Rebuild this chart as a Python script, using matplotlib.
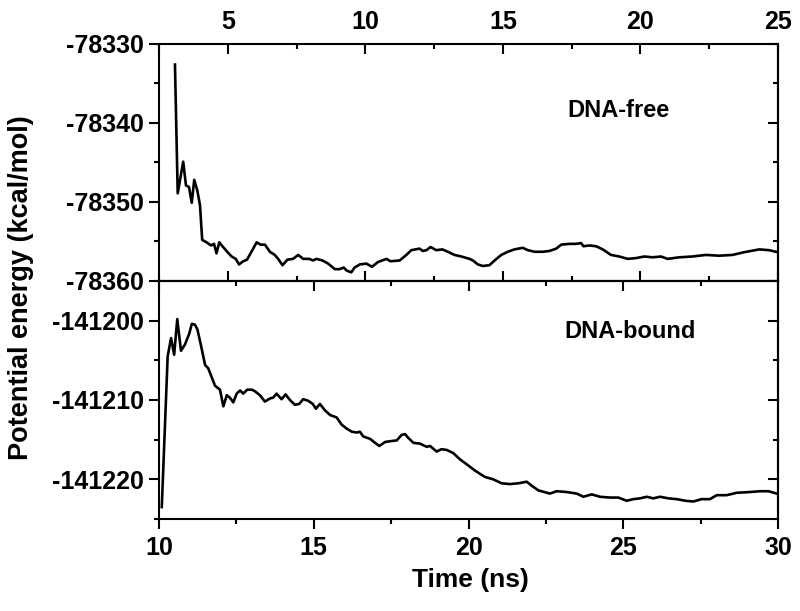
import numpy as np
import matplotlib
matplotlib.use("Agg")
import matplotlib.pyplot as plt
from matplotlib.ticker import MultipleLocator, ScalarFormatter


# =========================
# Data
# =========================

# DNA-free (top panel, top time axis)
free_time = [
    3.08, 3.18, 3.38, 3.48, 3.59, 3.69, 3.78, 3.89, 3.99, 4.07,
    4.23, 4.39, 4.50, 4.59, 4.69, 4.83, 4.98, 5.14, 5.29, 5.41,
    5.56, 5.70, 5.86, 6.05, 6.19, 6.35, 6.53, 6.71, 6.83, 6.99,
    7.17, 7.37, 7.56, 7.74, 7.96, 8.10, 8.22, 8.44, 8.65, 8.89,
    9.07, 9.21, 9.33, 9.49, 9.61, 9.80, 10.04, 10.24, 10.46, 10.77,
    10.91, 11.25, 11.49, 11.67, 11.97, 12.09, 12.22, 12.37, 12.58, 12.80,
    13.00, 13.24, 13.49, 13.79, 13.91, 14.09, 14.27, 14.51, 14.70, 14.94,
    15.18, 15.42, 15.72, 15.91, 16.15, 16.45, 16.69, 16.94, 17.12, 17.42,
    17.66, 17.84, 17.93, 18.14, 18.39, 18.63, 18.93, 19.23, 19.54, 19.84,
    20.14, 20.44, 20.75, 20.99, 21.41, 21.89, 22.38, 22.86, 23.35, 23.71,
    24.01, 24.32, 24.68, 24.92,
]
free_energy = [
    -78332.6, -78348.9, -78344.9, -78347.9, -78348.1, -78350.1, -78347.2, -78348.5, -78350.4, -78354.8,
    -78355.1, -78355.5, -78355.3, -78356.5, -78355.1, -78355.7, -78356.3, -78356.9, -78357.2, -78357.9,
    -78357.5, -78357.3, -78356.3, -78355.1, -78355.4, -78355.4, -78356.3, -78356.7, -78357.2, -78358.0,
    -78357.3, -78357.2, -78356.7, -78357.2, -78357.2, -78357.4, -78357.2, -78357.4, -78357.8, -78358.5,
    -78358.5, -78358.3, -78358.7, -78358.9, -78358.3, -78357.9, -78357.8, -78358.2, -78357.6, -78357.2,
    -78357.5, -78357.4, -78356.7, -78356.1, -78355.9, -78356.2, -78356.1, -78355.7, -78356.1, -78356.0,
    -78356.3, -78356.7, -78356.9, -78357.2, -78357.4, -78357.9, -78358.1, -78358.0, -78357.4, -78356.7,
    -78356.3, -78356.0, -78355.8, -78356.1, -78356.3, -78356.3, -78356.2, -78355.9, -78355.4, -78355.3,
    -78355.3, -78355.2, -78355.6, -78355.5, -78355.6, -78356.0, -78356.7, -78356.9, -78357.2, -78357.1,
    -78356.9, -78357.0, -78356.9, -78357.2, -78357.0, -78356.9, -78356.7, -78356.8, -78356.7, -78356.4,
    -78356.2, -78356.0, -78356.1, -78356.3,
]

# DNA-bound (bottom panel, bottom time axis)
bound_time = [
    10.09, 10.28, 10.39, 10.49, 10.59, 10.71, 10.84, 10.98, 11.06, 11.16,
    11.24, 11.35, 11.49, 11.59, 11.70, 11.81, 11.97, 12.08, 12.19, 12.29,
    12.40, 12.51, 12.62, 12.72, 12.85, 13.00, 13.10, 13.26, 13.42, 13.59,
    13.69, 13.80, 13.96, 14.09, 14.23, 14.39, 14.53, 14.66, 14.82, 14.97,
    15.07, 15.20, 15.36, 15.53, 15.74, 15.90, 16.06, 16.23, 16.39, 16.49,
    16.60, 16.82, 16.98, 17.12, 17.30, 17.46, 17.68, 17.84, 17.95, 18.06,
    18.22, 18.43, 18.65, 18.76, 18.97, 19.13, 19.30, 19.51, 19.73, 19.94,
    20.21, 20.53, 20.80, 21.07, 21.34, 21.61, 21.88, 22.04, 22.26, 22.63,
    22.85, 23.17, 23.50, 23.71, 23.98, 24.25, 24.57, 24.84, 25.11, 25.33,
    25.54, 25.76, 25.97, 26.19, 26.46, 26.73, 27.00, 27.26, 27.53, 27.80,
    28.02, 28.34, 28.66, 29.10, 29.42, 29.69, 29.96,
]
bound_energy = [
    -141223.5, -141204.5, -141202.2, -141204.3, -141199.8, -141203.8, -141203.0, -141201.6, -141200.4, -141200.5,
    -141201.1, -141203.0, -141205.6, -141206.0, -141207.1, -141208.2, -141208.7, -141210.8, -141209.4, -141209.7,
    -141210.3, -141209.2, -141208.8, -141209.2, -141208.7, -141208.7, -141208.9, -141209.4, -141210.2, -141209.8,
    -141209.7, -141209.2, -141209.9, -141209.3, -141210.0, -141210.6, -141210.5, -141209.9, -141210.1, -141210.5,
    -141211.1, -141210.5, -141211.3, -141211.9, -141212.2, -141213.1, -141213.6, -141214.0, -141214.1, -141214.0,
    -141214.6, -141214.9, -141215.4, -141215.8, -141215.3, -141215.2, -141215.1, -141214.4, -141214.3, -141214.8,
    -141215.4, -141215.5, -141215.9, -141215.8, -141216.5, -141216.2, -141216.3, -141216.7, -141217.5, -141218.1,
    -141218.9, -141219.7, -141220.0, -141220.5, -141220.6, -141220.5, -141220.3, -141220.8, -141221.4, -141221.8,
    -141221.5, -141221.6, -141221.8, -141222.2, -141221.9, -141222.2, -141222.3, -141222.3, -141222.7, -141222.5,
    -141222.4, -141222.2, -141222.4, -141222.2, -141222.4, -141222.5, -141222.7, -141222.8, -141222.5, -141222.5,
    -141222.0, -141222.0, -141221.7, -141221.6, -141221.5, -141221.5, -141221.8,
]

free_xticks = [5, 10, 15, 20, 25]
free_yticks = [-78330, -78340, -78350, -78360]
bound_xticks = [10, 15, 20, 25, 30]
bound_yticks = [-141200, -141210, -141220]


# =========================
# Style
# =========================

plt.rcParams["font.family"] = ["Liberation Sans", "DejaVu Sans"]
plt.rcParams["font.weight"] = "bold"
plt.rcParams["axes.linewidth"] = 1.5
plt.rcParams["axes.unicode_minus"] = False

tick_size = 18
major_len = 7
minor_len = 3.5
tick_w = 1.5


def style_ticks(axis_obj, direction, labels=True, pad=4):
    axis_obj.set_tick_params(which="major", direction=direction, length=major_len,
                             width=tick_w, labelsize=tick_size, pad=pad)
    axis_obj.set_tick_params(which="minor", direction=direction, length=minor_len,
                             width=tick_w)
    if not labels:
        axis_obj.set_tick_params(which="both", labelleft=False, labelright=False,
                                 labeltop=False, labelbottom=False)


def plain_formatter():
    fmt = ScalarFormatter(useOffset=False)
    fmt.set_scientific(False)
    return fmt


fig = plt.figure(figsize=(8, 6.11), dpi=100)

ax_top = fig.add_axes([0.19875, 0.5401, 0.77375, 0.3879])
ax_bot = fig.add_axes([0.19875, 0.1506, 0.77375, 0.3895])

# =========================
# Top panel: DNA-free
# =========================

ax_top.plot(free_time, free_energy, color="black", linewidth=1.9)
ax_top.set_xlim(2.5, 25)
ax_top.set_ylim(-78360, -78330)

ax_top.set_xticks(free_xticks)
ax_top.xaxis.set_minor_locator(MultipleLocator(2.5))
ax_top.xaxis.set_ticks_position("both")
ax_top.tick_params(axis="x", which="both", labeltop=True, labelbottom=False)
style_ticks(ax_top.xaxis, "in", pad=7)

ax_top.set_yticks(free_yticks)
ax_top.yaxis.set_major_formatter(plain_formatter())
ax_top.yaxis.set_minor_locator(MultipleLocator(5))
ax_top.yaxis.set_ticks_position("left")
style_ticks(ax_top.yaxis, "out", pad=4)

right_top = ax_top.secondary_yaxis("right")
right_top.set_yticks(free_yticks)
right_top.yaxis.set_minor_locator(MultipleLocator(5))
style_ticks(right_top.yaxis, "in", labels=False)

ax_top.text(0.743, 0.72, "DNA-free", transform=ax_top.transAxes,
            ha="center", va="center", fontsize=17, fontweight="bold")

# =========================
# Bottom panel: DNA-bound
# =========================

ax_bot.plot(bound_time, bound_energy, color="black", linewidth=1.9)
ax_bot.set_xlim(10, 30)
ax_bot.set_ylim(-141225, -141195)

ax_bot.set_xticks(bound_xticks)
ax_bot.xaxis.set_minor_locator(MultipleLocator(2.5))
ax_bot.xaxis.set_ticks_position("bottom")
style_ticks(ax_bot.xaxis, "out", pad=5)

top_bot = ax_bot.secondary_xaxis("top")
top_bot.set_xticks(bound_xticks)
top_bot.xaxis.set_minor_locator(MultipleLocator(2.5))
style_ticks(top_bot.xaxis, "in", labels=False)

ax_bot.set_yticks(bound_yticks)
ax_bot.yaxis.set_major_formatter(plain_formatter())
ax_bot.yaxis.set_minor_locator(MultipleLocator(5))
ax_bot.yaxis.set_ticks_position("left")
style_ticks(ax_bot.yaxis, "out", pad=4)

right_bot = ax_bot.secondary_yaxis("right")
right_bot.set_yticks(bound_yticks)
right_bot.yaxis.set_minor_locator(MultipleLocator(5))
style_ticks(right_bot.yaxis, "in", labels=False)

ax_bot.text(0.761, 0.786, "DNA-bound", transform=ax_bot.transAxes,
            ha="center", va="center", fontsize=17, fontweight="bold")

# =========================
# Shared labels
# =========================

fig.text(470 / 800, 1 - 580 / 611, "Time (ns)", ha="center", va="center",
         fontsize=19, fontweight="bold")
fig.text(21 / 800, 1 - 288 / 611, "Potential energy (kcal/mol)", rotation=90,
         ha="center", va="center", fontsize=19.5, fontweight="bold")

fig.savefig("out.png", dpi=100)
